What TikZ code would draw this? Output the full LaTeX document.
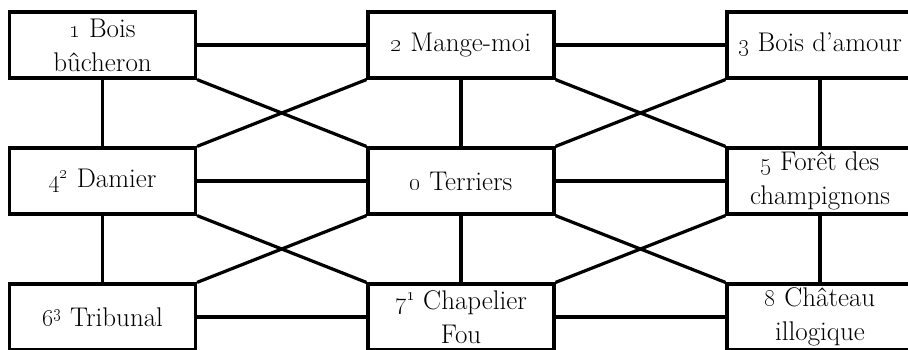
\documentclass[tikz,border=0pt]{standalone}
\tikzset{
  room/.style={draw=black, line width=3.2pt, fill=white, rectangle,
    minimum width=186pt, minimum height=66pt, inner sep=0pt,
    align=center, font=\fontsize{27}{34}\selectfont},
  link/.style={line width=3.2pt, draw=black}
}
\newcommand{\osn}[1]{\oldstylenums{#1}}
\begin{document}
\begin{tikzpicture}[x=1pt,y=-1pt]
\useasboundingbox (0,0) rectangle (908,350);
\node[room] (r1) at (102.5,45) {\osn{1} Bois\\b\^ucheron};
\node[room] (r2) at (461,45) {\osn{2} Mange-moi};
\node[room] (r3) at (820,45) {\osn{3} Bois d’amour};
\node[room] (r4) at (102.5,181) {\osn{4}\textsuperscript{\osn{2}} Damier};
\node[room] (r0) at (461,181) {\osn{0} Terriers};
\node[room] (r5) at (820,181) {\osn{5} For\^et des\\champignons};
\node[room] (r6) at (102.5,317) {\osn{6}\textsuperscript{\osn{3}} Tribunal};
\node[room] (r7) at (461,317) {\osn{7}\textsuperscript{\osn{1}} Chapelier\\Fou};
\node[room] (r8) at (820,317) {\osn{8} Ch\^ateau\\illogique};
% horizontal
\draw[link] (r1) -- (r2);
\draw[link] (r2) -- (r3);
\draw[link] (r4) -- (r0);
\draw[link] (r0) -- (r5);
\draw[link] (r6) -- (r7);
\draw[link] (r7) -- (r8);
% vertical
\draw[link] (r1) -- (r4);
\draw[link] (r4) -- (r6);
\draw[link] (r2) -- (r0);
\draw[link] (r0) -- (r7);
\draw[link] (r3) -- (r5);
\draw[link] (r5) -- (r8);
% diagonals
\draw[link] (r1.south east) -- (r0.north west);
\draw[link] (r2.south west) -- (r4.north east);
\draw[link] (r2.south east) -- (r5.north west);
\draw[link] (r3.south west) -- (r0.north east);
\draw[link] (r4.south east) -- (r7.north west);
\draw[link] (r0.south west) -- (r6.north east);
\draw[link] (r0.south east) -- (r8.north west);
\draw[link] (r5.south west) -- (r7.north east);
\end{tikzpicture}
\end{document}
